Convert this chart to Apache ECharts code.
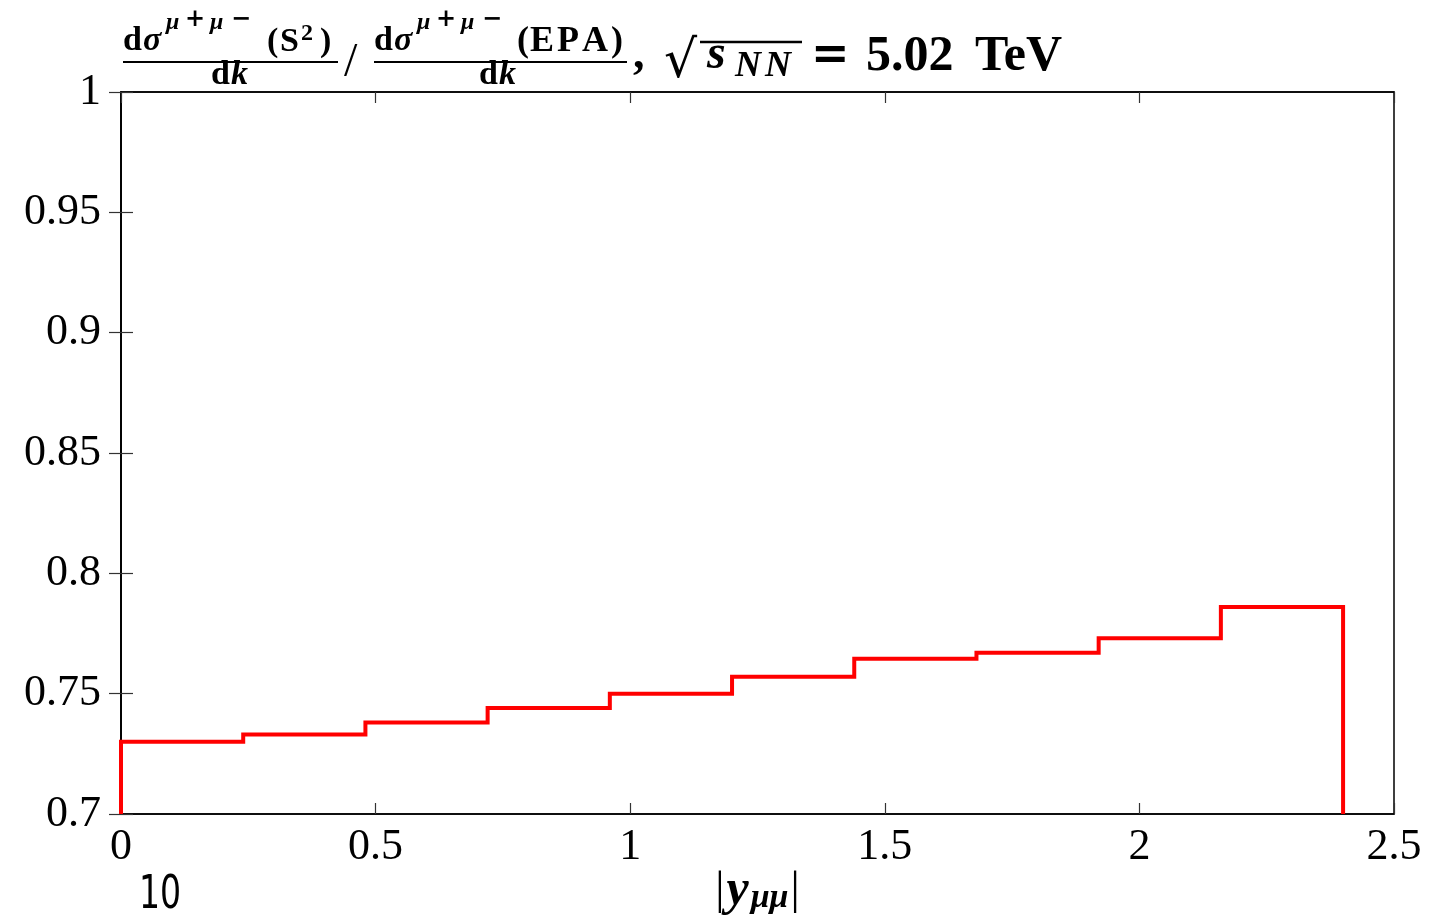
<!DOCTYPE html>
<html><head><meta charset="utf-8">
<script src="https://cdn.jsdelivr.net/npm/echarts@6/dist/echarts.min.js"></script>
<style>html,body{margin:0;padding:0;background:#fff}#c{width:1452px;height:918px}</style>
</head><body><div id="c"></div>
<script>
var binEdges = [0, 0.24, 0.48, 0.72, 0.96, 1.2, 1.44, 1.68, 1.92, 2.16, 2.4];
var ratioValues = [0.730, 0.733, 0.738, 0.744, 0.750, 0.757, 0.7645, 0.767, 0.773, 0.786];
var yBase = 0.7;

var pts = [[binEdges[0], yBase]];
for (var i = 0; i < ratioValues.length; i++) {
  pts.push([binEdges[i], ratioValues[i]]);
  pts.push([binEdges[i + 1], ratioValues[i]]);
}
pts.push([binEdges[binEdges.length - 1], yBase]);

var SERIF = '"Liberation Serif", "DejaVu Serif", serif';
// y is the text baseline
function T(text, x, y, size, opts) {
  opts = opts || {};
  return {type: 'text', x: x, y: y - 0.34 * size, silent: true, scaleX: opts.sx || 1, style: {
    text: text, fill: '#000', fontFamily: opts.family || SERIF, fontSize: size,
    fontWeight: opts.weight || 'bold', fontStyle: opts.style || 'normal',
    align: opts.align || 'left', verticalAlign: 'middle'}};
}
function L(x1, y1, x2, y2, w) {
  return {type: 'line', silent: true, shape: {x1: x1, y1: y1, x2: x2, y2: y2}, style: {stroke: '#000', lineWidth: w || 2}};
}
var DJ = '"DejaVu Serif", serif';

var titleEls = [
  T('d', 123, 53, 34), T('σ', 143, 53, 34, {style: 'italic'}),
  T('μ', 166, 31, 24, {style: 'italic'}), T('+', 185, 28, 24, {family: DJ}), T('μ', 210, 31, 24, {style: 'italic'}), T('−', 231, 28, 24, {family: DJ}),
  T('(', 267, 54, 34), T('S', 280, 54, 34), T('2', 301, 42, 24), T(')', 320, 54, 34),
  L(123, 62, 338, 62, 2),
  T('d', 211, 87, 34), T('k', 231, 87, 34, {style: 'italic'}),
  T('/', 344, 80, 48, {weight: 'normal'}),
  T('d', 374, 53, 34), T('σ', 394, 53, 34, {style: 'italic'}),
  T('μ', 417, 31, 24, {style: 'italic'}), T('+', 436, 28, 24, {family: DJ}), T('μ', 461, 31, 24, {style: 'italic'}), T('−', 482, 28, 24, {family: DJ}),
  T('(', 517, 54, 36), T('E', 530, 54, 36), T('P', 557, 54, 36), T('A', 582, 54, 36), T(')', 611, 54, 36),
  L(374, 62, 627, 62, 2),
  T('d', 479, 87, 34), T('k', 499, 87, 34, {style: 'italic'}),
  T(',', 633, 72, 46),
  T('√', 664, 81, 52, {weight: 'normal', family: DJ}),
  L(700, 42, 802, 42, 2.5),
  T('s', 707, 72, 48, {style: 'italic'}), T('N', 735, 79, 36, {style: 'italic'}), T('N', 765, 79, 36, {style: 'italic'}),
  T('=', 811, 73, 46, {weight: 'bold', family: DJ}),
  T('5.02', 866, 74, 50),
  T('TeV', 975, 74, 50),
  T('10', 139, 912, 46, {weight: 'normal', family: '"DejaVu Sans", sans-serif', sx: 0.72})
];

var axisLine = {show: true, lineStyle: {color: '#000', width: 1.5}};
var chart = echarts.init(document.getElementById('c'), null, {renderer: 'canvas'});
chart.setOption({
  backgroundColor: '#fff',
  animation: false,
  grid: {left: 121, right: 58, top: 92, bottom: 104, outerBoundsMode: 'none', containLabel: false,
         show: true, borderColor: '#000', borderWidth: 1.5},
  xAxis: [
    {type: 'value', min: 0, max: 2.5, interval: 0.5, position: 'bottom',
     axisLine: axisLine, axisTick: {show: true, inside: true, length: 11, lineStyle: {color: '#333', width: 1.2}},
     splitLine: {show: false},
     axisLabel: {color: '#000', fontFamily: SERIF, fontSize: 44, margin: 11},
     name: '|{y|y}{s|μμ}|', nameLocation: 'middle', nameGap: 52, nameMoveOverlap: false,
     nameTextStyle: {color: '#000', fontFamily: SERIF, fontSize: 46, lineHeight: 50, rich: {
       y: {fontFamily: SERIF, fontSize: 50, fontStyle: 'italic', fontWeight: 'bold', lineHeight: 50, padding: [0, 2, 0, 2]},
       s: {fontFamily: SERIF, fontSize: 34, fontStyle: 'italic', fontWeight: 'bold', lineHeight: 50, padding: [14, 2, 0, 0]}}}},
    {type: 'value', min: 0, max: 2.5, interval: 0.5, position: 'top',
     axisLine: axisLine, axisTick: {show: true, inside: true, length: 11, lineStyle: {color: '#333', width: 1.2}},
     splitLine: {show: false}, axisLabel: {show: false}}
  ],
  yAxis: [
    {type: 'value', min: 0.7, max: 1, interval: 0.05, position: 'left',
     axisLine: axisLine, axisTick: {show: true, inside: true, length: 12, lineStyle: {color: '#333', width: 1.2}},
     splitLine: {show: false},
     axisLabel: {color: '#000', fontFamily: SERIF, fontSize: 44, margin: 20}},
    {type: 'value', min: 0.7, max: 1, interval: 0.05, position: 'right',
     axisLine: axisLine, axisTick: {show: true, inside: true, length: 12, lineStyle: {color: '#333', width: 1.2}},
     splitLine: {show: false}, axisLabel: {show: false}}
  ],
  series: [{
    type: 'line', data: pts, xAxisIndex: 0, yAxisIndex: 0,
    showSymbol: false, symbol: 'none', clip: false,
    lineStyle: {color: '#ff0000', width: 4, join: 'miter'}
  }],
  graphic: titleEls
});
</script></body></html>
